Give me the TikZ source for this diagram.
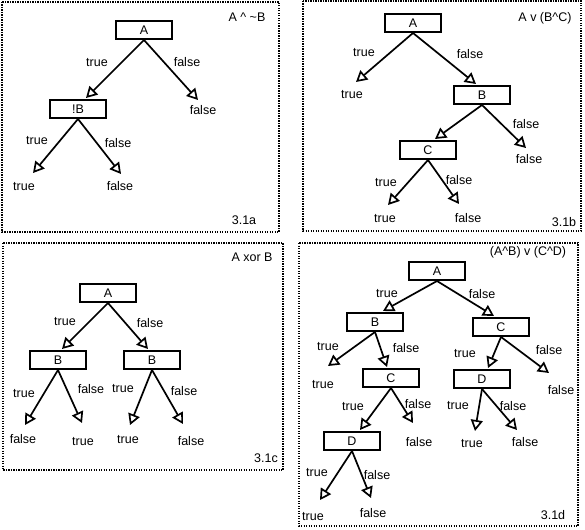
\documentclass[tikz,border=0pt]{standalone}
\usepackage{fontspec}
\setmainfont{Liberation Sans}
\usetikzlibrary{arrows.meta}
\tikzset{
  box/.style={draw, line width=2pt, minimum width=56pt, minimum height=18pt, inner sep=0pt, text height=9pt, text depth=0pt},
  lbl/.style={inner sep=0pt, text height=9pt, text depth=0pt},
  arr/.style={line width=1.7pt, -{Triangle[open, length=11pt, width=12pt, line width=1.7pt]}},
  panel/.style={line width=1.3pt, dash pattern=on 1.3pt off 1.2pt}
}
\begin{document}
\begin{tikzpicture}[x=1pt, y=-1pt, font=\fontsize{12.5}{14}\selectfont]
\useasboundingbox (0,0) rectangle (585,529);
% panels
\draw[panel] (2,2) rectangle (279,232);
\draw[panel] (303,1) rectangle (581,231);
\draw[panel] (3,243) rectangle (283,470);
\draw[panel] (299,243) rectangle (578,526);

% ---------- panel 3.1a ----------
\node[lbl] (aT) at (247,17) {A \textasciicircum{} \textasciitilde B};
\node[lbl] (aN) at (244,220) {3.1a};
\node[box] (aA) at (144,30) {A};
\node[box] (aB) at (78,109) {!B};
\coordinate (at1) at (86,98);
\coordinate (at2) at (198,100);
\node[lbl] (aL1) at (203,110) {false};
\draw[arr] (aA.south) -- (at1);
\draw[arr] (aA.south) -- (at2);
\node[lbl] (ae1) at (97,62) {true};
\node[lbl] (ae2) at (187,62) {false};
\coordinate (at3) at (33,173);
\coordinate (at4) at (121,174);
\node[lbl] (aL2) at (24,186) {true};
\node[lbl] (aL3) at (120,186) {false};
\draw[arr] (aB.south) -- (at3);
\draw[arr] (aB.south) -- (at4);
\node[lbl] (ae3) at (37,140) {true};
\node[lbl] (ae4) at (118,143) {false};

% ---------- panel 3.1b ----------
\node[lbl] (bT) at (545,17) {A v (B\textasciicircum C)};
\node[lbl] (bN) at (564,222) {3.1b};
\node[box] (bA) at (413,23) {A};
\node[box] (bB) at (482,95) {B};
\node[box] (bC) at (428,150) {C};
\coordinate (bt1) at (356,82);
\coordinate (bt2) at (476,84);
\node[lbl] (bL1) at (352,94) {true};
\draw[arr] (bA.south) -- (bt1);
\draw[arr] (bA.south) -- (bt2);
\node[lbl] (be1) at (364,52) {true};
\node[lbl] (be2) at (470,54) {false};
\coordinate (bt3) at (435,139);
\coordinate (bt4) at (526,148);
\node[lbl] (bL2) at (529,159) {false};
\draw[arr] (bB.south) -- (bt3);
\draw[arr] (bB.south) -- (bt4);
\node[lbl] (be3) at (526,124) {false};
\coordinate (bt5) at (388,205);
\coordinate (bt6) at (459,204);
\node[lbl] (bL3) at (385,218) {true};
\node[lbl] (bL4) at (468,218) {false};
\draw[arr] (bC.south) -- (bt5);
\draw[arr] (bC.south) -- (bt6);
\node[lbl] (be5) at (386,182) {true};
\node[lbl] (be6) at (459,180) {false};

% ---------- panel 3.1c ----------
\node[lbl] (cT) at (252,257) {A xor B};
\node[lbl] (cN) at (266,458) {3.1c};
\node[box] (cA) at (108,293) {A};
\node[box] (cB1) at (58,360) {B};
\node[box] (cB2) at (152,360) {B};
\coordinate (ct1) at (62,349);
\coordinate (ct2) at (148,349);
\draw[arr] (cA.south) -- (ct1);
\draw[arr] (cA.south) -- (ct2);
\node[lbl] (ce1) at (65,321) {true};
\node[lbl] (ce2) at (150,323) {false};
\coordinate (ct3) at (25,425);
\coordinate (ct4) at (82,423);
\node[lbl] (cL1) at (23,439) {false};
\node[lbl] (cL2) at (83,441) {true};
\draw[arr] (cB1.south) -- (ct3);
\draw[arr] (cB1.south) -- (ct4);
\node[lbl] (ce3) at (24,393) {true};
\node[lbl] (ce4) at (91,389) {false};
\coordinate (ct5) at (130,425);
\coordinate (ct6) at (183,424);
\node[lbl] (cL3) at (128,439) {true};
\node[lbl] (cL4) at (191,441) {false};
\draw[arr] (cB2.south) -- (ct5);
\draw[arr] (cB2.south) -- (ct6);
\node[lbl] (ce5) at (123,388) {true};
\node[lbl] (ce6) at (184,391) {false};

% ---------- panel 3.1d ----------
\node[lbl] (dT) at (528,251) {(A\textasciicircum B) v (C\textasciicircum D)};
\node[lbl] (dN) at (553,515) {3.1d};
\node[box] (dA) at (437,271) {A};
\node[box] (dB) at (375,322) {B};
\node[box] (dC) at (501,327) {C};
\node[box] (dC2) at (391,378) {C};
\node[box] (dD) at (352,441) {D};
\node[box] (dD2) at (482,379) {D};
\coordinate (dt1) at (383,311);
\coordinate (dt2) at (494,316);
\draw[arr] (dA.south) -- (dt1);
\draw[arr] (dA.south) -- (dt2);
\node[lbl] (de1) at (387,293) {true};
\node[lbl] (de2) at (482,294) {false};
\coordinate (dt3) at (328,366);
\coordinate (dt4) at (387,367);
\node[lbl] (dL1) at (323,384) {true};
\draw[arr] (dB.south) -- (dt3);
\draw[arr] (dB.south) -- (dt4);
\node[lbl] (de3) at (328,346) {true};
\node[lbl] (de4) at (406,348) {false};
\coordinate (dt5) at (360,430);
\coordinate (dt6) at (413,423);
\node[lbl] (dL2) at (419,442) {false};
\draw[arr] (dC2.south) -- (dt5);
\draw[arr] (dC2.south) -- (dt6);
\node[lbl] (de5) at (353,406) {true};
\node[lbl] (de6) at (418,404) {false};
\coordinate (dt7) at (320,500);
\coordinate (dt8) at (371,498);
\node[lbl] (dL3) at (313,516) {true};
\node[lbl] (dL4) at (373,513) {false};
\draw[arr] (dD.south) -- (dt7);
\draw[arr] (dD.south) -- (dt8);
\node[lbl] (de7) at (317,472) {true};
\node[lbl] (de8) at (377,475) {false};
\coordinate (dt9) at (488,368);
\coordinate (dt10) at (549,373);
\node[lbl] (dL5) at (561,390) {false};
\draw[arr] (dC.south) -- (dt9);
\draw[arr] (dC.south) -- (dt10);
\node[lbl] (de9) at (465,353) {true};
\node[lbl] (de10) at (549,350) {false};
\coordinate (dt11) at (475,431);
\coordinate (dt12) at (517,430);
\node[lbl] (dL6) at (472,443) {true};
\node[lbl] (dL7) at (525,442) {false};
\draw[arr] (dD2.south) -- (dt11);
\draw[arr] (dD2.south) -- (dt12);
\node[lbl] (de11) at (458,405) {true};
\node[lbl] (de12) at (513,406) {false};
\end{tikzpicture}
\end{document}
